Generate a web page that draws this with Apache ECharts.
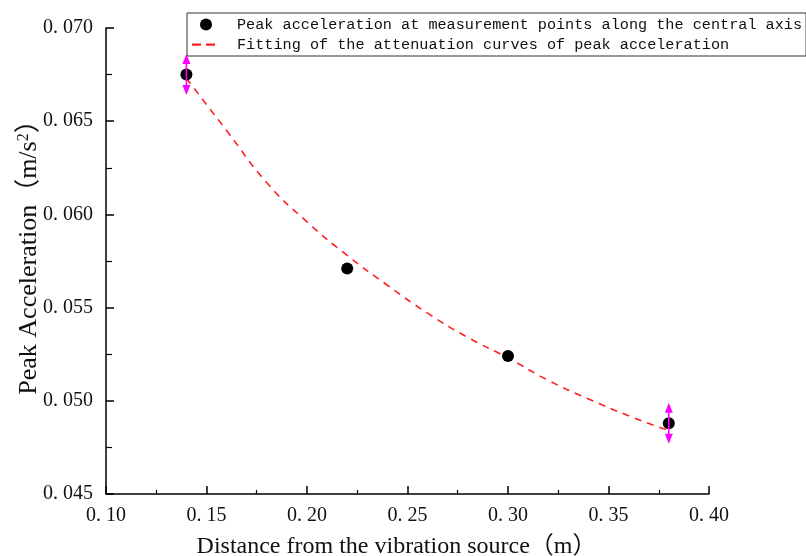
<!DOCTYPE html>
<html>
<head>
<meta charset="utf-8">
<script src="https://cdn.jsdelivr.net/npm/echarts@6/dist/echarts.min.js"></script>
<style>html,body{margin:0;padding:0;background:#fff}#c{width:806px;height:556px}</style>
</head>
<body>
<div id="c"></div>
<script>
// Measured points
const pointX = [0.14, 0.22, 0.30, 0.38];
const pointY = [0.0675, 0.0571, 0.0524, 0.0488];
// Fitted attenuation curve
const fitX = [0.14, 0.16, 0.18, 0.20, 0.22, 0.24, 0.26, 0.28, 0.30, 0.32, 0.34, 0.36, 0.38];
const fitY = [0.0673, 0.0645, 0.0617, 0.0596, 0.0578, 0.0562, 0.0547, 0.0534, 0.0523, 0.0511, 0.0501, 0.0492, 0.0484];
// Double arrows (x, center, half-range)
const arrowX = [0.14, 0.38];
const arrowY = [0.0675, 0.0488];
const arrowHalf = [0.0011, 0.0011];
// Tick labels
const xTickLabels = ['0. 10', '0. 15', '0. 20', '0. 25', '0. 30', '0. 35', '0. 40'];
const yTickLabels = ['0. 045', '0. 050', '0. 055', '0. 060', '0. 065', '0. 070'];
const seriesNames = ['Peak acceleration at measurement points along the central axis', 'Fitting of the attenuation curves of peak acceleration'];
const xName = 'Distance from the vibration source（m）';
const yName = 'Peak Acceleration（m/s{sup|2}）';

const serif = '"Liberation Serif", "Noto Sans CJK SC", serif';
const chart = echarts.init(document.getElementById('c'), null, {renderer: 'canvas'});
chart.setOption({
  animation: false,
  backgroundColor: '#fff',
  grid: {left: 106, right: 97, top: 28, bottom: 62, containLabel: false, outerBoundsMode: 'none'},
  legend: {
    orient: 'vertical', left: 187, top: 13,
    padding: [4, 4, 4, 3],
    itemGap: 5, itemWidth: 32, itemHeight: 12,
    borderColor: '#333', borderWidth: 1, backgroundColor: '#fff',
    textStyle: {fontFamily: '"Liberation Mono", monospace', fontSize: 15.2, color: '#111', padding: [0, 0, 0, 10]},
    data: [
      {name: seriesNames[0], icon: 'circle'},
      {name: seriesNames[1], icon: 'path://M0,0M32,12M2,5h9v2.2h-9zM16,5h9v2.2h-9z'}
    ]
  },
  xAxis: {
    type: 'value', min: 0.10, max: 0.40, interval: 0.05,
    name: xName, nameLocation: 'middle', nameGap: 41, nameMoveOverlap: false,
    nameTextStyle: {fontFamily: serif, fontSize: 24, color: '#111', padding: [0, 22, 0, 0]},
    axisLine: {show: true, onZero: false, lineStyle: {color: '#000', width: 1.5}},
    axisTick: {show: true, inside: true, length: 8, lineStyle: {color: '#000', width: 1.5}},
    minorTick: {show: true, splitNumber: 2, length: 4, lineStyle: {color: '#000', width: 1.2}},
    splitLine: {show: false},
    axisLabel: {fontFamily: serif, fontSize: 20, color: '#111', margin: 12,
      formatter: (v, i) => xTickLabels[Math.round((v - 0.10) / 0.05)]}
  },
  yAxis: {
    type: 'value', min: 0.045, max: 0.070, interval: 0.005,
    name: yName, nameLocation: 'middle', nameGap: 64, nameRotate: 90, nameMoveOverlap: false,
    nameTextStyle: {fontFamily: serif, fontSize: 26, color: '#111', padding: [0, 0, 0, 20],
      rich: {sup: {fontFamily: serif, fontSize: 16, verticalAlign: 'top', padding: [0, 0, 10, 0], color: '#111'}}},
    axisLine: {show: true, onZero: false, lineStyle: {color: '#000', width: 1.5}},
    axisTick: {show: true, inside: true, length: 8, lineStyle: {color: '#000', width: 1.5}},
    minorTick: {show: true, splitNumber: 2, length: 6, lineStyle: {color: '#000', width: 1.2}},
    splitLine: {show: false},
    axisLabel: {fontFamily: serif, fontSize: 20, color: '#111', margin: 13,
      formatter: (v, i) => yTickLabels[Math.round((v - 0.045) / 0.005)]}
  },
  series: [
    {
      name: seriesNames[1], type: 'line', smooth: true, symbol: 'none', z: 2,
      lineStyle: {color: '#ff1f1f', width: 1.6, type: [7, 6]},
      itemStyle: {color: '#ff1f1f'},
      data: fitX.map((x, i) => [x, fitY[i]])
    },
    {
      name: seriesNames[0], type: 'scatter', symbol: 'circle', symbolSize: 12, z: 3,
      itemStyle: {color: '#000', opacity: 1},
      data: pointX.map((x, i) => [x, pointY[i]])
    },
    {
      type: 'custom', z: 4, silent: true,
      data: arrowX.map((x, i) => [x, arrowY[i], arrowY[i] - arrowHalf[i], arrowY[i] + arrowHalf[i]]),
      renderItem: function (params, api) {
        const top = api.coord([api.value(0), api.value(3)]);
        const bot = api.coord([api.value(0), api.value(2)]);
        const c = '#ff00ff';
        const w = 4, h = 10;
        return {
          type: 'group',
          children: [
            {type: 'line', shape: {x1: top[0], y1: top[1] + h - 1, x2: bot[0], y2: bot[1] - h + 1}, style: {stroke: c, lineWidth: 1.6}},
            {type: 'polygon', shape: {points: [[top[0], top[1]], [top[0] - w, top[1] + h], [top[0] + w, top[1] + h]]}, style: {fill: c}},
            {type: 'polygon', shape: {points: [[bot[0], bot[1]], [bot[0] - w, bot[1] - h], [bot[0] + w, bot[1] - h]]}, style: {fill: c}}
          ]
        };
      }
    }
  ]
});
</script>
</body>
</html>
